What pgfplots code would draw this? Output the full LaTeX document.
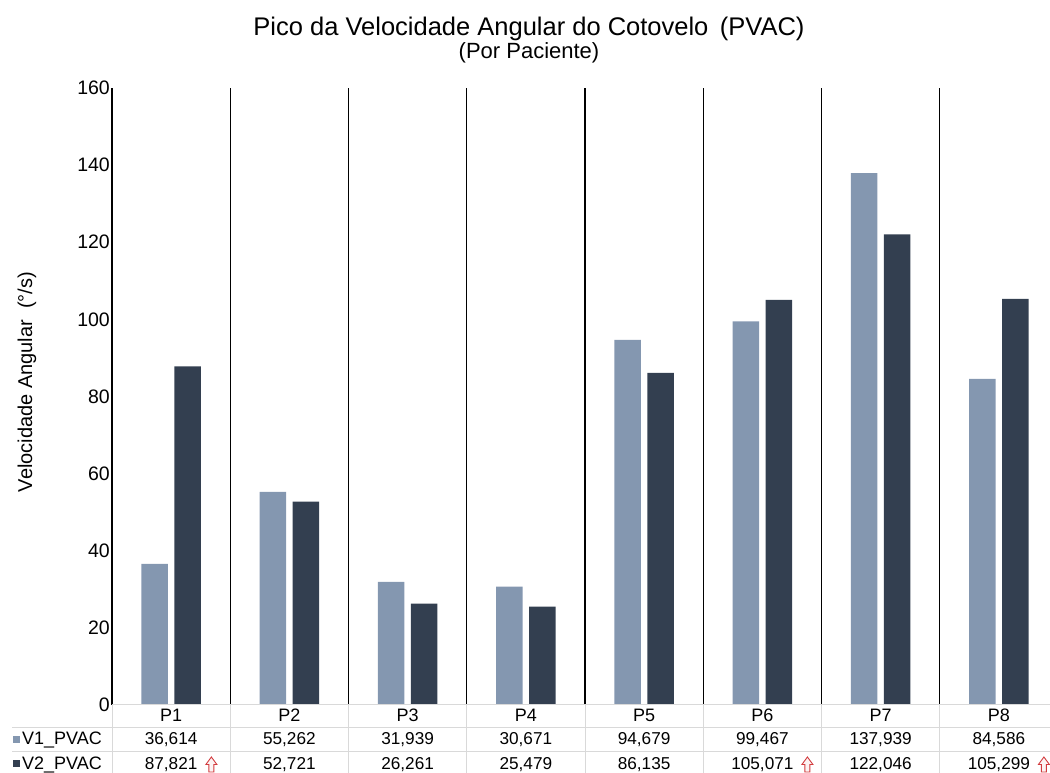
\documentclass[border=0pt]{standalone}
\usepackage{pgfplots}
\pgfplotsset{compat=1.18}
\usepackage{pgfplotstable}
\usepackage{fontspec}
\setmainfont{Liberation Sans}

\definecolor{vone}{HTML}{8497B0}
\definecolor{vtwo}{HTML}{333F50}
\definecolor{tblgrid}{HTML}{D9D9D9}
\definecolor{uparrow}{HTML}{D23B3E}

% peak elbow angular velocity per patient, two visits; up = V2 above V1
\pgfplotstableread{
x v1 v2 up
1 36.614 87.821 1
2 55.262 52.721 0
3 31.939 26.261 0
4 30.671 25.479 0
5 94.679 86.135 0
6 99.467 105.071 1
7 137.939 122.046 0
8 84.586 105.299 1
}\pvac

\newcommand{\tblfont}{\fontsize{18}{20}\selectfont}
\newcommand{\numfont}{\fontsize{17.2}{20}\selectfont}
\newcommand{\valfmt}[1]{\pgfmathprintnumber[fixed, fixed zerofill, precision=3, use comma, set thousands separator={}, assume math mode=true]{#1}}
% hollow up arrow shown after values that rose from V1 to V2
\newcommand{\uparr}{\rlap{\hspace{8pt}\tikz[baseline=0pt]\draw[uparrow, fill=uparrow!6, line width=0.9pt, line join=miter]
  (3pt,-2pt) -- (3pt,5.5pt) -- (0pt,5.5pt) -- (5.5pt,13pt) -- (11pt,5.5pt) -- (8pt,5.5pt) -- (8pt,-2pt) -- cycle;}}

\begin{document}
\begin{tikzpicture}
\path[use as bounding box] (0pt,0pt) rectangle (1050pt,773pt);

\begin{axis}[
  at={(112pt,68pt)}, anchor=south west,
  scale only axis, width=946pt, height=617pt,
  xmin=0.5, xmax=8.5, ymin=0, ymax=160,
  clip=false,
  axis line style={draw=none},
  ytick={0,20,...,160},
  major tick length=0pt,
  yticklabel style={font=\fontsize{19.5}{20}\selectfont, inner sep=2pt},
  xtick={1,...,8},
  xticklabels={P1,P2,P3,P4,P5,P6,P7,P8},
  xticklabel style={font=\tblfont, anchor=base, yshift=-17pt, inner sep=0pt},
  extra x ticks={0.5,1.5,...,7.5},
  extra x tick labels={},
  extra x tick style={xmajorgrids=true, major tick length=0pt,
    major grid style={black, line width=1.1pt}},
  /pgf/number format/assume math mode=true,
]
\addplot[ybar, bar width=0.225, bar shift=-0.14, fill=vone, draw=none]
  table[x=x, y=v1]{\pvac};
\addplot[ybar, bar width=0.225, bar shift=0.14, fill=vtwo, draw=none]
  table[x=x, y=v2]{\pvac};

% data table rows under the categories
\addplot[draw=none, mark=none, point meta=explicit,
  nodes near coords={\valfmt{\pgfplotspointmeta}},
  every node near coord/.style={font=\numfont, anchor=base, yshift=-40pt, inner sep=0pt, text=black}]
  table[x=x, y expr=0, meta=v1]{\pvac};
\addplot[draw=none, mark=none, point meta=explicit,
  x filter/.expression={\thisrow{up}==0 ? x : nan},
  nodes near coords={\valfmt{\pgfplotspointmeta}},
  every node near coord/.style={font=\numfont, anchor=base, yshift=-65pt, inner sep=0pt, text=black}]
  table[x=x, y expr=0, meta=v2]{\pvac};
\addplot[draw=none, mark=none, point meta=explicit,
  x filter/.expression={\thisrow{up}==1 ? x : nan},
  nodes near coords={\valfmt{\pgfplotspointmeta}\uparr},
  every node near coord/.style={font=\numfont, anchor=base, yshift=-65pt, inner sep=0pt, text=black}]
  table[x=x, y expr=0, meta=v2]{\pvac};
\end{axis}

% table rules
\draw[tblgrid, line width=1pt] (112pt,68pt) -- (1060pt,68pt);
\foreach \yy in {45pt,21pt}
  \draw[tblgrid, line width=1pt] (12pt,\yy) -- (1060pt,\yy);
\foreach \k in {0,...,7}
  \draw[tblgrid, line width=1pt] ({112pt+118.25pt*\k},68pt) -- ({112pt+118.25pt*\k},0pt);

% row keys and names
\fill[vone] (13pt,29.5pt) rectangle ++(7pt,7pt);
\fill[vtwo] (13pt,6pt) rectangle ++(7pt,7pt);
\node[anchor=base west, inner sep=0pt, font=\tblfont] at (22pt,28pt) {V1\_PVAC};
\node[anchor=base west, inner sep=0pt, font=\tblfont] at (22pt,3pt) {V2\_PVAC};

% titles
\node[anchor=base, inner sep=0pt, font=\fontsize{25.5}{25}\selectfont] at (529pt,737pt)
  {Pico da Velocidade Angular do Cotovelo\hspace{0.45em}(PVAC)};
\node[anchor=base, inner sep=0pt, font=\fontsize{22}{22}\selectfont] at (529pt,714pt)
  {(Por Paciente)};
\node[rotate=90, anchor=base, inner sep=0pt, font=\fontsize{20}{20}\selectfont] at (32pt,391pt)
  {Velocidade Angular\hspace{0.55em}(°/s)};
\end{tikzpicture}
\end{document}
